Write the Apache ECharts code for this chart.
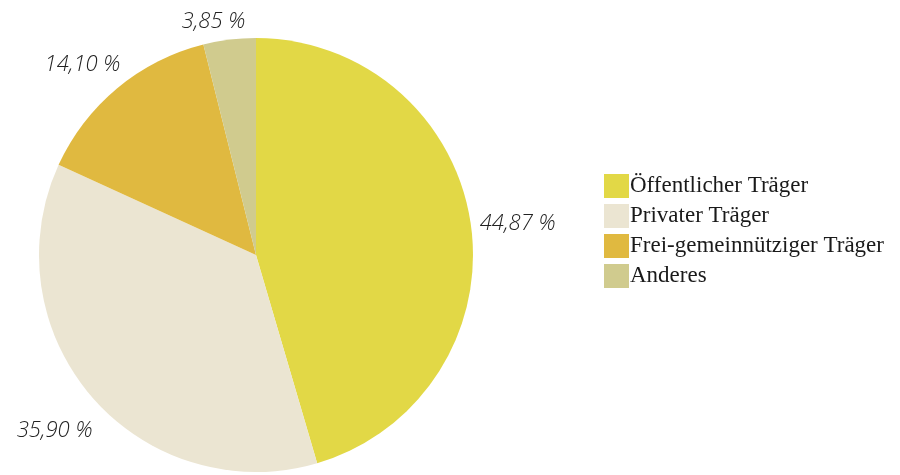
<!DOCTYPE html>
<html><head><meta charset="utf-8">
<script src="https://cdn.jsdelivr.net/npm/echarts@6/dist/echarts.min.js"></script>
<style>html,body{margin:0;padding:0;background:#fff}#c{width:900px;height:475px}</style>
</head><body><div id="c"></div>
<script>
const categories = ["Öffentlicher Träger", "Privater Träger", "Frei-gemeinnütziger Träger", "Anderes"];
const values = [44.87, 35.90, 14.10, 3.85];
const colors = ["#E2D846", "#EBE5D2", "#E0B940", "#D0CB8E"];
// per-slice label line lengths (label placement styling only)
const labelLen = [4, 51, 31, 18];
const labelLen2 = [0, -44, -28, -23];

const chart = echarts.init(document.getElementById('c'));
chart.setOption({
  animation: false,
  color: colors,
  legend: {
    orient: 'vertical',
    left: 599,
    top: 169,
    itemWidth: 25,
    itemHeight: 24,
    itemGap: 6,
    icon: 'rect',
    textStyle: { fontFamily: 'Liberation Serif', fontSize: 23, color: '#1a1a1a', padding: [0, 0, 0, -4] },
    data: categories
  },
  series: [{
    type: 'pie',
    center: [256, 255],
    radius: 217,
    startAngle: 90,
    clockwise: true,
    silent: true,
    avoidLabelOverlap: false,
    data: categories.map((c, i) => ({
      name: c, value: values[i],
      labelLine: { show: false, length: labelLen[i], length2: labelLen2[i] }
    })),
    label: {
      show: true,
      position: 'outside',
      overflow: 'none',
      formatter: p => p.value.toFixed(2).replace('.', ',') + ' %',
      fontFamily: 'Open Sans',
      fontStyle: 'italic',
      fontWeight: 300,
      fontSize: 22,
      color: '#222'
    },
    labelLine: { show: false }
  }]
});
</script></body></html>
